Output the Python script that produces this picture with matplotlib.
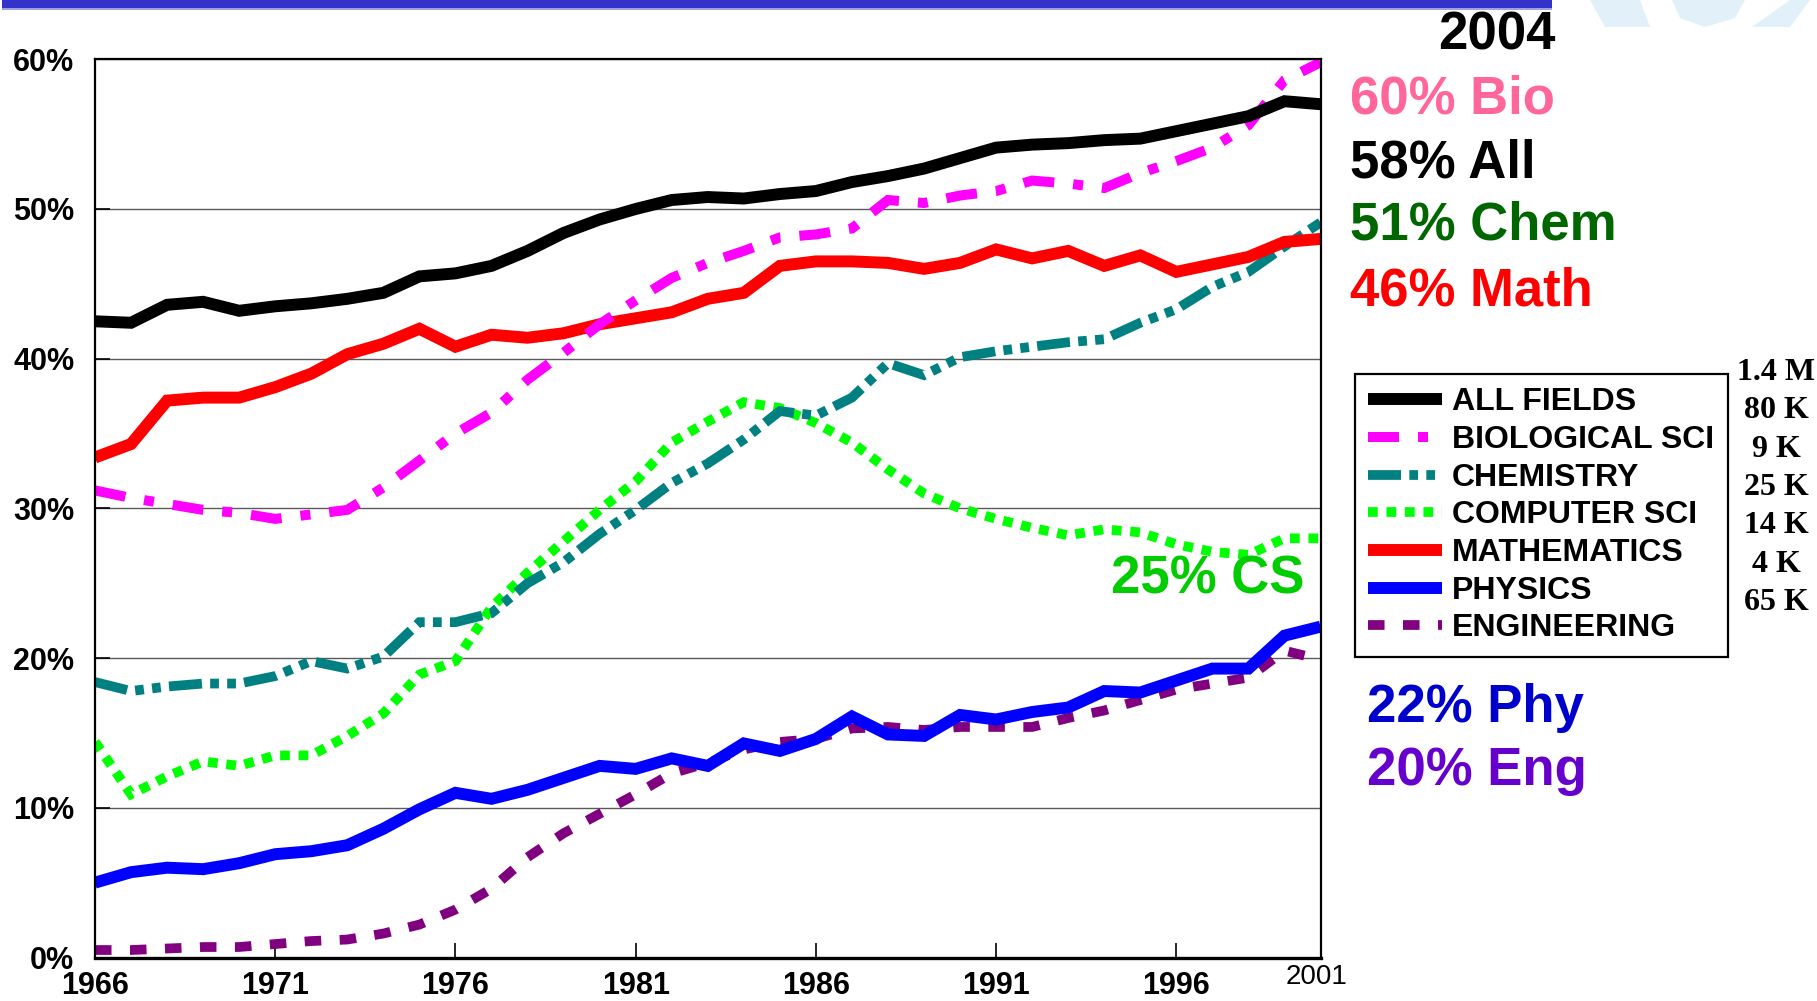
import matplotlib
matplotlib.use("Agg")
import matplotlib.pyplot as plt
from matplotlib.patches import Rectangle, Polygon
from matplotlib.ticker import FuncFormatter, FixedLocator

W, H = 1817, 1001

# ---------------- data ----------------
years = list(range(1966, 2001))
all_fields = [42.5, 42.4, 43.6, 43.8, 43.2, 43.5, 43.7, 44.0, 44.4, 45.5,
              45.7, 46.2, 47.2, 48.4, 49.3, 50.0, 50.6, 50.8, 50.7, 51.0,
              51.2, 51.8, 52.2, 52.7, 53.4, 54.1, 54.3, 54.4, 54.6, 54.7,
              55.2, 55.7, 56.2, 57.2, 57.0]
biology = [31.2, 30.7, 30.3, 29.9, 29.7, 29.3, 29.6, 29.9, 31.4, 33.2,
           35.0, 36.4, 38.6, 40.4, 42.3, 43.9, 45.4, 46.4, 47.2, 48.1,
           48.3, 48.7, 50.6, 50.4, 50.9, 51.2, 51.9, 51.7, 51.4, 52.4,
           53.2, 54.1, 55.6, 58.6, 59.8]
chemistry = [18.4, 17.8, 18.1, 18.3, 18.3, 18.8, 19.8, 19.3, 20.1, 22.4,
             22.4, 23.0, 25.0, 26.4, 28.3, 29.9, 31.7, 33.0, 34.6, 36.5,
             36.2, 37.4, 39.7, 38.9, 40.1, 40.5, 40.8, 41.1, 41.3, 42.4,
             43.3, 44.8, 45.8, 47.5, 49.1]
computer = [14.4, 10.9, 12.1, 13.1, 12.8, 13.5, 13.5, 14.8, 16.3, 18.9,
            19.8, 23.4, 25.7, 27.8, 29.9, 31.8, 34.4, 35.8, 37.1, 36.7,
            35.7, 34.4, 32.6, 31.0, 30.0, 29.3, 28.7, 28.2, 28.6, 28.4,
            27.6, 27.1, 26.9, 28.0, 28.0]
mathematics = [33.4, 34.3, 37.2, 37.4, 37.4, 38.1, 39.0, 40.3, 41.0, 42.0,
               40.8, 41.6, 41.4, 41.7, 42.3, 42.7, 43.1, 44.0, 44.4, 46.2,
               46.5, 46.5, 46.4, 46.0, 46.4, 47.3, 46.7, 47.2, 46.2, 46.9,
               45.8, 46.3, 46.8, 47.8, 48.0]
physics = [5.0, 5.7, 6.0, 5.9, 6.3, 6.9, 7.1, 7.5, 8.6, 9.9,
           11.0, 10.6, 11.2, 12.0, 12.8, 12.6, 13.3, 12.8, 14.3, 13.8,
           14.6, 16.1, 14.9, 14.8, 16.2, 15.9, 16.4, 16.7, 17.8, 17.7,
           18.5, 19.3, 19.3, 21.5, 22.1]
engineering = [0.5, 0.5, 0.6, 0.7, 0.7, 0.9, 1.1, 1.2, 1.6, 2.2,
               3.2, 4.6, 6.7, 8.3, 9.6, 10.9, 12.3, 13.0, 13.9, 14.4,
               14.6, 15.3, 15.4, 15.2, 15.4, 15.4, 15.4, 16.0, 16.5, 17.2,
               17.9, 18.3, 18.7, 20.5, 19.9]

series_labels = ["ALL FIELDS", "BIOLOGICAL SCI", "CHEMISTRY", "COMPUTER SCI",
                 "MATHEMATICS", "PHYSICS", "ENGINEERING"]
counts = ["1.4 M", "80 K", "9 K", "25 K", "14 K", "4 K", "65 K"]
x_ticks = [1966, 1971, 1976, 1981, 1986, 1991, 1996]
y_ticks = [0, 10, 20, 30, 40, 50, 60]
end_year_label = "2001"
year_title = "2004"
callouts_top = ["60% Bio", "58% All", "51% Chem", "46% Math"]
callout_cs = "25% CS"
callouts_bottom = ["22% Phy", "20% Eng"]

# ---------------- figure ----------------
SANS = ["Liberation Sans", "DejaVu Sans"]
SERIF = ["Liberation Serif", "DejaVu Serif"]
plt.rcParams["font.family"] = SANS
plt.rcParams["font.weight"] = "bold"

fig = plt.figure(figsize=(W / 100, H / 100), dpi=100)
fig.patch.set_facecolor("white")


def fx(x):
    return x / W


def fy(y):
    return 1 - y / H


ax = fig.add_axes([fx(95), fy(957.5), fx(1320.5) - fx(95), fy(59.3) - fy(957.5)])

solid_lw = 8.6
dash_lw = 7.0

styles = [
    dict(data=all_fields, color="#000000", lw=solid_lw, ls="-", z=2.6),
    dict(data=biology, color="#FF00FF", lw=7.2, ls=(0, (3.1, 1.9, 1.0, 1.9)), z=2.4),
    dict(data=chemistry, color="#008080", lw=dash_lw, ls=(0, (3.4, 0.85, 0.9, 0.85, 0.9, 0.85)), z=2.2),
    dict(data=computer, color="#00FF00", lw=dash_lw, ls=(0, (1.0, 0.9)), z=2.1),
    dict(data=mathematics, color="#FF0000", lw=solid_lw, ls="-", z=2.3),
    dict(data=physics, color="#0000FF", lw=solid_lw, ls="-", z=2.5),
    dict(data=engineering, color="#800080", lw=dash_lw, ls=(0, (1.7, 1.9)), z=2.0),
]

handles = []
for st, lab in zip(styles, series_labels):
    ln, = ax.plot(years, st["data"], color=st["color"], lw=st["lw"], ls=st["ls"],
                  label=lab, zorder=st["z"], solid_joinstyle="miter",
                  dash_capstyle="butt", solid_capstyle="butt", dash_joinstyle="miter")
    handles.append(ln)

ax.set_xlim(1966, 2000)
ax.set_ylim(0, 60)
ax.yaxis.set_major_locator(FixedLocator(y_ticks))
ax.xaxis.set_major_locator(FixedLocator(x_ticks))
ax.yaxis.set_major_formatter(FuncFormatter(lambda v, p: f"{int(round(v))}%"))
ax.xaxis.set_major_formatter(FuncFormatter(lambda v, p: f"{int(v)}"))

ax.grid(axis="y", color="#5a5a5a", lw=1.0, zorder=1)
ax.set_axisbelow(True)

ax.tick_params(axis="y", direction="in", length=11, width=1.2, pad=15,
               labelsize=22, right=False)
ax.tick_params(axis="x", direction="in", length=11, width=1.2, pad=10,
               labelsize=22, top=False)
for lab in ax.get_xticklabels() + ax.get_yticklabels():
    lab.set_fontweight("bold")

for side in ["left", "right", "top"]:
    ax.spines[side].set_linewidth(1.6)
    ax.spines[side].set_color("black")
ax.spines["bottom"].set_linewidth(2.4)
ax.spines["bottom"].set_zorder(3)

# "2001" end label
fig.text(fx(1317), fy(984), end_year_label, fontsize=20, fontweight="normal",
         ha="center", va="baseline", family=SANS)

# ---------------- legend ----------------
leg = ax.legend(handles=handles, loc="upper left",
                bbox_to_anchor=(fx(1355), fy(374)), bbox_transform=fig.transFigure,
                prop=dict(family=SANS, weight="bold", size=23),
                frameon=True, fancybox=False, edgecolor="black", framealpha=1,
                borderaxespad=0, borderpad=0.42, labelspacing=0.24,
                handlelength=2.3, handletextpad=0.32)
leg.get_frame().set_linewidth(1.6)
for lh in leg.get_lines():
    lh.set_dash_capstyle("butt")

# counts column
count_base = [380, 418, 457, 495, 533, 572, 610]
for c, yb in zip(counts, count_base):
    fig.text(fx(1776), fy(yb), c, fontsize=23, fontweight="bold", ha="center",
             va="baseline", family=SERIF)

# ---------------- callouts ----------------
BIG = 38
fig.text(fx(1555), fy(50), year_title, fontsize=BIG, fontweight="bold",
         ha="right", va="baseline", color="black")
top_colors = ["#FF6699", "#000000", "#006600", "#FF0000"]
top_base = [113, 177, 240, 305]
for t, c, yb in zip(callouts_top, top_colors, top_base):
    fig.text(fx(1350), fy(yb), t, fontsize=BIG, fontweight="bold",
             ha="left", va="baseline", color=c)

fig.text(fx(1111), fy(593), callout_cs, fontsize=BIG, fontweight="bold",
         ha="left", va="baseline", color="#00CC00")

bot_colors = ["#0000CC", "#6600CC"]
bot_base = [722, 785]
for t, c, yb in zip(callouts_bottom, bot_colors, bot_base):
    fig.text(fx(1367), fy(yb), t, fontsize=BIG, fontweight="bold",
             ha="left", va="baseline", color=c)

# ---------------- decorations ----------------
fig.add_artist(Rectangle((fx(2), fy(7.5)), fx(1552) - fx(2), fy(0) - fy(7.5),
                         transform=fig.transFigure, color="#3333CC", lw=0))
fig.add_artist(Rectangle((fx(2), fy(10)), fx(1552) - fx(2), fy(7.5) - fy(10),
                         transform=fig.transFigure, color="#A0A0E0", lw=0))

logo_color = "#E2F0FA"
logo_shapes = [
    [(1590, 0), (1640, 0), (1650, 27), (1605, 27)],
    [(1672, 0), (1745, 0), (1735, 18), (1705, 27), (1680, 18)],
    [(1752, 27), (1790, 0), (1810, 0), (1790, 27)],
]
for shp in logo_shapes:
    fig.add_artist(Polygon([(fx(a), fy(b)) for a, b in shp], closed=True,
                           transform=fig.transFigure, color=logo_color, lw=0))

fig.savefig("out.png", dpi=100, facecolor="white")
